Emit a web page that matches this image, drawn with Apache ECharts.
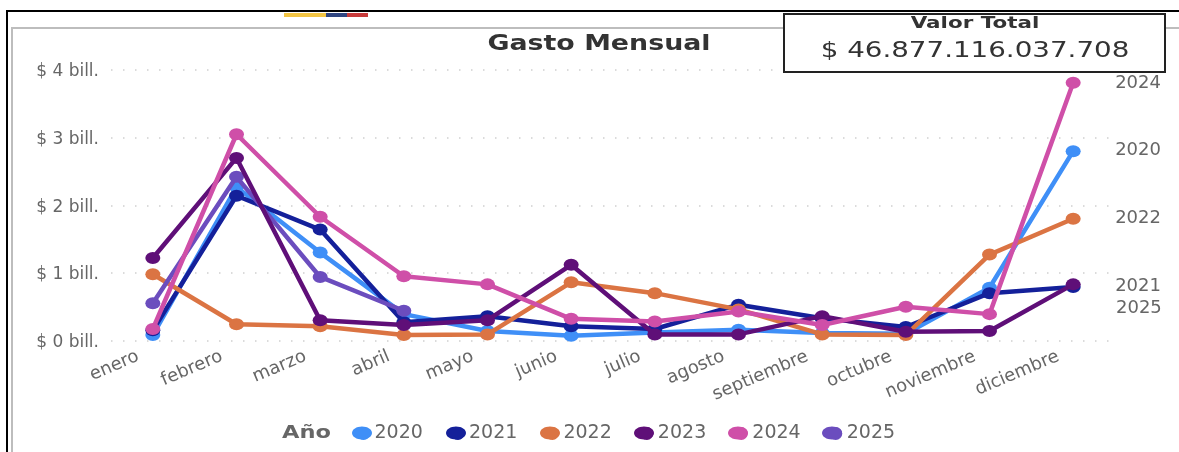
<!DOCTYPE html>
<html><head><meta charset="utf-8">
<style>html,body{margin:0;padding:0;background:#fff}#c{width:1179px;height:452px}</style>
<script src="https://cdn.jsdelivr.net/npm/echarts@6/dist/echarts.min.js"></script>
</head><body><div id="c"></div>
<script>
const meses = ['enero','febrero','marzo','abril','mayo','junio','julio','agosto','septiembre','octubre','noviembre','diciembre'];
const v2020 = [0.08,2.27,1.30,0.39,0.14,0.07,0.12,0.16,0.11,0.10,0.78,2.80];
const v2021 = [0.15,2.14,1.64,0.27,0.36,0.21,0.17,0.53,0.33,0.20,0.70,0.79];
const v2022 = [0.98,0.24,0.21,0.08,0.09,0.86,0.70,0.46,0.09,0.08,1.27,1.80];
const v2023 = [1.22,2.70,0.30,0.23,0.30,1.12,0.09,0.09,0.36,0.13,0.14,0.83];
const v2024 = [0.17,3.05,1.83,0.95,0.83,0.32,0.28,0.43,0.23,0.50,0.39,3.81];
const v2025 = [0.55,2.42,0.94,0.44,null,null,null,null,null,null,null,null];
const anios = ['2020','2021','2022','2023','2024','2025'];
const colores = ['#3F8FF7','#14209A','#DB7443','#5F0F78','#CF4FA8','#6B4DBE'];
const valores = [v2020,v2021,v2022,v2023,v2024,v2025];
const tituloGrafico = 'Gasto Mensual';
const totalTitulo = 'Valor Total';
const totalValor = '$ 46.877.116.037.708';
const leyendaTitulo = 'Año';
const font = 'DejaVu Sans';
const gris = '#666666';
const conEtiqueta = {'2020':-1,'2021':-1,'2022':0,'2024':0};
const series = anios.map((a,i)=>({
  name:a,type:'line',data:valores[i],connectNulls:false,
  symbol:'circle',symbolSize:[15,12],showSymbol:true,
  lineStyle:{width:4.5,color:colores[i]},itemStyle:{color:colores[i]},
  z:[3,4,5,7,8,6][i],
  endLabel:{show:a in conEtiqueta,formatter:a,color:gris,fontFamily:font,fontSize:18,
    offset:[34,conEtiqueta[a]||0]},
  emphasis:{disabled:true},animation:false
}));
const chart = echarts.init(document.getElementById('c'),null,{renderer:'canvas'});
chart.setOption({
  animation:false,
  backgroundColor:'#fff',
  grid:{left:111,right:64,top:70,height:270.5,containLabel:false},
  xAxis:{type:'category',data:meses,boundaryGap:true,
    axisLine:{show:false},axisTick:{show:false},splitLine:{show:false},
    axisLabel:{interval:0,rotate:23,margin:9,padding:[0,16,0,0],color:gris,fontFamily:font,fontSize:18}},
  yAxis:{type:'value',min:0,max:4,interval:1,
    axisLine:{show:false},axisTick:{show:false},
    splitLine:{show:true,lineStyle:{type:[1.5,10.5],color:'#cfcfcf',width:1.5}},
    axisLabel:{margin:12,verticalAlign:'top',lineHeight:4,color:gris,fontFamily:font,fontSize:17,
      formatter:v=>'$ '+v+' bill.'}},
  legend:{show:true,data:anios,left:352,top:419,itemWidth:20,itemHeight:13,itemGap:28.6,icon:'circle',
    textStyle:{color:gris,fontFamily:font,fontSize:19,padding:[0,0,0,-4]},selectedMode:false},
  series,
  graphic:[
    {type:'rect',silent:true,z:0,shape:{x:7,y:11,width:1180,height:450},style:{fill:'#fff',stroke:'#000',lineWidth:2}},
    {type:'rect',silent:true,z:0,shape:{x:12,y:28,width:1180,height:440},style:{fill:'#fff',stroke:'#bdbdbd',lineWidth:2}},
    {type:'rect',silent:true,z:1,shape:{x:284,y:13,width:42,height:4},style:{fill:'#F2C443'}},
    {type:'rect',silent:true,z:1,shape:{x:326,y:13,width:21,height:4},style:{fill:'#2F4580'}},
    {type:'rect',silent:true,z:1,shape:{x:347,y:13,width:21,height:4},style:{fill:'#C73A3A'}},
    {type:'text',silent:true,z:51,x:599,y:44,scaleX:1.22,style:{x:0,y:0,text:tituloGrafico,align:'center',verticalAlign:'middle',fontFamily:font,fontWeight:'bold',fontSize:22,fill:'#333'}},
    {type:'rect',silent:true,z:50,shape:{x:784,y:14,width:381,height:58},style:{fill:'#fff',stroke:'#222',lineWidth:2}},
    {type:'text',silent:true,z:51,x:975,y:24,scaleX:1.3,style:{x:0,y:0,text:totalTitulo,align:'center',verticalAlign:'middle',fontFamily:font,fontWeight:'bold',fontSize:16.5,fill:'#333'}},
    {type:'text',silent:true,z:51,x:975,y:52,scaleX:1.32,style:{x:0,y:0,text:totalValor,align:'center',verticalAlign:'middle',fontFamily:font,fontSize:21,fill:'#333'}},
    {type:'text',silent:true,z:51,x:1116,y:308,style:{x:0,y:0,text:anios[5],align:'left',verticalAlign:'middle',fontFamily:font,fontSize:18,fill:gris}},
    {type:'text',silent:true,z:51,x:282,y:433,scaleX:1.25,style:{x:0,y:0,text:leyendaTitulo,align:'left',verticalAlign:'middle',fontFamily:font,fontWeight:'bold',fontSize:18,fill:gris}},
    ...colores.map((c,i)=>({type:'ellipse',silent:true,z:52,shape:{cx:362+94*i,cy:433,rx:10,ry:6.5},style:{fill:c}}))
  ]
});
</script></body></html>
